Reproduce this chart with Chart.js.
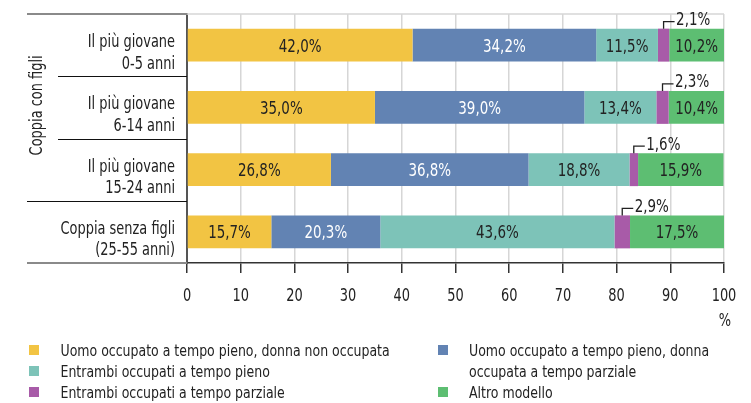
<!DOCTYPE html>
<html>
<head>
<meta charset="utf-8">
<script src="https://cdn.jsdelivr.net/npm/chart.js@4/dist/chart.umd.min.js"></script>
<style>
html,body{margin:0;padding:0;background:#fff;}
canvas{display:block;}
</style>
</head>
<body>
<canvas id="c" width="751" height="403"></canvas>
<script>
// ---- data ----
const categories = [
  ["Il più giovane", "0-5 anni"],
  ["Il più giovane", "6-14 anni"],
  ["Il più giovane", "15-24 anni"],
  ["Coppia senza figli", "(25-55 anni)"]
];
const groupLabel = "Coppia con figli";
const groupIndices = [0, 1, 2];
const seriesNames = [
  "Uomo occupato a tempo pieno, donna non occupata",
  "Uomo occupato a tempo pieno, donna occupata a tempo parziale",
  "Entrambi occupati a tempo pieno",
  "Entrambi occupati a tempo parziale",
  "Altro modello"
];
const legendLines = [
  ["Uomo occupato a tempo pieno, donna non occupata"],
  ["Uomo occupato a tempo pieno, donna", "occupata a tempo parziale"],
  ["Entrambi occupati a tempo pieno"],
  ["Entrambi occupati a tempo parziale"],
  ["Altro modello"]
];
const uomoPienoDonnaNon   = [42.0, 35.0, 26.8, 15.7];
const uomoPienoDonnaParz  = [34.2, 39.0, 36.8, 20.3];
const entrambiPieno       = [11.5, 13.4, 18.8, 43.6];
const entrambiParziale    = [2.1, 2.3, 1.6, 2.9];
const altroModello        = [10.2, 10.4, 15.9, 17.5];
const xTickValues = [0, 10, 20, 30, 40, 50, 60, 70, 80, 90, 100];
const xUnit = "%";

// ---- styles ----
const FONT = "'Liberation Sans Narrow', 'DejaVu Sans Condensed', 'Arial Narrow', sans-serif";
const colors = ["#F2C443", "#6283B3", "#7DC3B8", "#A85BA8", "#5DBE72"];
const labelColors = ["#222", "#fff", "#222", "#222", "#222"];
const TXT = "#222";
const seriesData = [uomoPienoDonnaNon, uomoPienoDonnaParz, entrambiPieno, entrambiParziale, altroModello];
const fmt = v => v.toFixed(1).replace(".", ",") + "%";

function sText(ctx, txt, x, y, size, sx, align, baseline, color) {
  ctx.save();
  ctx.font = size + "px " + FONT;
  ctx.textAlign = align;
  ctx.textBaseline = baseline;
  ctx.fillStyle = color || TXT;
  ctx.translate(x, y);
  ctx.scale(sx, 1);
  ctx.fillText(txt, 0, 0);
  ctx.restore();
}

const datasets = seriesData.map((d, i) => ({
  label: seriesNames[i],
  data: d,
  backgroundColor: colors[i],
  borderWidth: 0,
  barPercentage: 0.53,
  categoryPercentage: 1.0
}));

const decorPlugin = {
  id: "decor",
  beforeDatasetsDraw(chart) {
    const ctx = chart.ctx, a = chart.chartArea;
    ctx.save();
    ctx.strokeStyle = "#d6d6d6";
    ctx.lineWidth = 1.5;
    ctx.beginPath(); ctx.moveTo(a.left, a.top); ctx.lineTo(a.right, a.top); ctx.stroke();
    ctx.restore();
  },
  afterDraw(chart) {
    const ctx = chart.ctx, a = chart.chartArea;
    const y = chart.scales.y, x = chart.scales.x;
    ctx.save();
    // left structure lines
    const bnd = i => (y.getPixelForValue(i) + y.getPixelForValue(i + 1)) / 2;
    ctx.strokeStyle = "#8a8a8a"; ctx.lineWidth = 2;
    ctx.beginPath(); ctx.moveTo(27, a.top); ctx.lineTo(a.left, a.top); ctx.stroke();
    ctx.beginPath(); ctx.moveTo(27, a.bottom); ctx.lineTo(a.left, a.bottom); ctx.stroke();
    ctx.strokeStyle = "#111"; ctx.lineWidth = 1;
    for (let i = 0; i < categories.length - 1; i++) {
      const yy = Math.round(bnd(i)) + 0.5;
      const inGroup = groupIndices.includes(i) && groupIndices.includes(i + 1);
      ctx.beginPath(); ctx.moveTo(inGroup ? 58 : 27, yy); ctx.lineTo(a.left, yy); ctx.stroke();
    }
    ctx.restore();

    // group label (rotated)
    const gTop = a.top;
    const gBot = bnd(groupIndices[groupIndices.length - 1]);
    ctx.save();
    ctx.translate(37, (gTop + gBot) / 2 - 2);
    ctx.rotate(-Math.PI / 2);
    sText(ctx, groupLabel, 0, 0, 18, 0.8, "center", "middle");
    ctx.restore();

    // y category labels
    categories.forEach((lab, i) => {
      const cy = y.getPixelForValue(i);
      sText(ctx, lab[0], 175, cy + 2, 18, 0.8, "right", "alphabetic");
      sText(ctx, lab[1], 175, cy + 23.5, 18, 0.8, "right", "alphabetic");
    });

    // x tick labels + unit
    xTickValues.forEach(v => {
      sText(ctx, String(v), x.getPixelForValue(v), 301, 18, 0.8, "center", "alphabetic");
    });
    sText(ctx, xUnit, x.getPixelForValue(100) + 1, 326, 18, 0.8, "center", "alphabetic");

    // value labels
    chart.data.datasets.forEach((ds, di) => {
      const meta = chart.getDatasetMeta(di);
      meta.data.forEach((bar, j) => {
        const v = ds.data[j];
        const cx = (bar.base + bar.x) / 2;
        if (di === 3) {
          const top = bar.y - bar.height / 2;
          ctx.save();
          ctx.strokeStyle = "#222"; ctx.lineWidth = 1.3;
          ctx.beginPath();
          ctx.moveTo(cx, top);
          ctx.lineTo(cx, top - 7);
          ctx.lineTo(cx + 11, top - 7);
          ctx.stroke();
          ctx.restore();
          sText(ctx, fmt(v), cx + 12.5, top - 3.5, 18, 0.83, "left", "alphabetic");
        } else {
          sText(ctx, fmt(v), cx, bar.y + 6.5, 18, 0.83, "center", "alphabetic", labelColors[di]);
        }
      });
    });

    // legend
    const cols = [
      { sq: 29, tx: 60.5, items: [0, 2, 3] },
      { sq: 438, tx: 469, items: [1, 4] }
    ];
    const rowBase = [356, 377, 398];
    cols.forEach(col => {
      let r = 0;
      col.items.forEach(idx => {
        ctx.fillStyle = colors[idx];
        ctx.fillRect(col.sq, rowBase[r] - 11, 10, 10);
        legendLines[idx].forEach((ln, k) => {
          sText(ctx, ln, col.tx, rowBase[r + k], 16, 0.87, "left", "alphabetic");
        });
        r += legendLines[idx].length;
      });
    });
  }
};

new Chart(document.getElementById("c"), {
  type: "bar",
  data: { labels: categories, datasets },
  options: {
    indexAxis: "y",
    responsive: false,
    animation: false,
    devicePixelRatio: 1,
    layout: { padding: { left: 0, right: 27, top: 14, bottom: 73 } },
    plugins: { legend: { display: false }, tooltip: { enabled: false } },
    scales: {
      x: {
        stacked: true,
        min: 0, max: 100,
        afterBuildTicks: s => { s.ticks = xTickValues.map(v => ({ value: v })); },
        afterFit: s => { s.height = 67; s.paddingLeft = 0; s.paddingRight = 0; },
        grid: { color: "#d6d6d6", lineWidth: 1.5, tickColor: "#333", tickLength: 10, tickWidth: 1.5 },
        border: { color: "#333", width: 1.5 },
        ticks: { display: false }
      },
      y: {
        stacked: true,
        afterFit: s => { s.width = 187; s.paddingTop = 0; s.paddingBottom = 0; },
        grid: { display: false },
        border: { color: "#555", width: 2 },
        ticks: { display: false }
      }
    }
  },
  plugins: [decorPlugin]
});
</script>
</body>
</html>
